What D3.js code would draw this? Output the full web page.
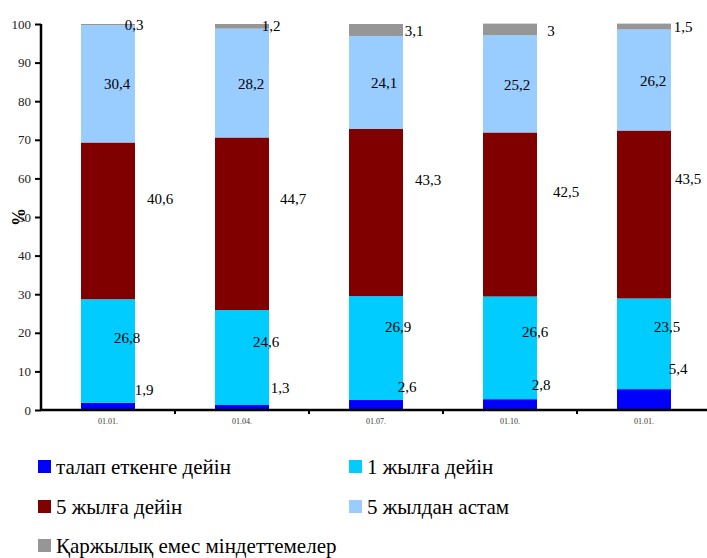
<!DOCTYPE html>
<html><head><meta charset="utf-8">
<script src="https://cdn.jsdelivr.net/npm/d3@7"></script>
<style>body{margin:0;background:#fff}svg{display:block}</style>
</head><body><svg id="c" width="707" height="558"></svg>
<script>
const categories = ["01.01.", "01.04.", "01.07.", "01.10.", "01.01."];
const seriesNames = ["талап еткенге дейін", "1 жылға дейін", "5 жылға дейін", "5 жылдан астам", "Қаржылық емес міндеттемелер"];
const onDemand   = [1.9, 1.3, 2.6, 2.8, 5.4];
const upTo1Year  = [26.8, 24.6, 26.9, 26.6, 23.5];
const upTo5Years = [40.6, 44.7, 43.3, 42.5, 43.5];
const over5Years = [30.4, 28.2, 24.1, 25.2, 26.2];
const nonFinancial = [0.3, 1.2, 3.1, 3, 1.5];
const labelText = [
  ["1,9","1,3","2,6","2,8","5,4"],
  ["26,8","24,6","26,9","26,6","23,5"],
  ["40,6","44,7","43,3","42,5","43,5"],
  ["30,4","28,2","24,1","25,2","26,2"],
  ["0,3","1,2","3,1","3","1,5"]
];
const yTicks = [0,10,20,30,40,50,60,70,80,90,100];

// layout / style
const FONT = '"Liberation Serif", "Times New Roman", Tinos, serif';
const colors = ["#0000FF", "#00CCFF", "#800000", "#99CCFF", "#969696"];
const labelNudge = [
  [[36,-17],[38,-20],[31,-18],[31,-20],[34,-31]],
  [[19,-13],[24,-16],[22,-21],[25,-16],[23,-17]],
  [[52,-22],[51,-25],[52,-33],[56,-23],[44,-36]],
  [[9,0],[9,1],[8,0],[7,1],[9,1]],
  [[26,0],[29,-1],[38,1],[41,1],[39,0]]
];

const seriesVals = [onDemand, upTo1Year, upTo5Years, over5Years, nonFinancial];
const rows = categories.map((c, i) => {
  const o = {i};
  seriesVals.forEach((s, k) => o["s" + k] = s[i]);
  return o;
});
const keys = seriesVals.map((_, k) => "s" + k);
const stacked = d3.stack().keys(keys)(rows);

const svg = d3.select("#c");
const x0 = 41, x1 = 711, yB = 410, yT = 24;
const pIn = 0.597;
const x = d3.scaleBand().domain(d3.range(categories.length)).range([x0, x1]).paddingInner(pIn).paddingOuter(pIn / 2);
const y = d3.scaleLinear().domain([0, 100]).range([yB, yT]);

// bars
stacked.forEach((layer, k) => {
  svg.append("g").selectAll("rect").data(layer).join("rect")
    .attr("x", d => x(d.data.i))
    .attr("width", x.bandwidth())
    .attr("y", d => y(d[1]))
    .attr("height", d => y(d[0]) - y(d[1]))
    .attr("fill", colors[k]);
});

// labels
stacked.forEach((layer, k) => {
  svg.append("g").selectAll("text").data(layer).join("text")
    .attr("x", (d, i) => x(d.data.i) + x.bandwidth() / 2 + labelNudge[k][i][0])
    .attr("y", (d, i) => y((d[0] + d[1]) / 2) + labelNudge[k][i][1])
    .attr("dy", "0.35em")
    .attr("text-anchor", "middle")
    .style("font-family", FONT)
    .style("font-size", "15px")
    .attr("fill", "#000")
    .text((d, i) => labelText[k][i]);
});

// y axis
const yAxis = d3.axisLeft(y).tickValues(yTicks).tickSize(6).tickPadding(4);
const gy = svg.append("g").attr("transform", `translate(${x0},0)`).call(yAxis);
gy.select(".domain").attr("stroke", "#000").attr("stroke-width", 2.5).attr("d", `M0,${yB}V${yT}`);
gy.selectAll(".tick line").attr("stroke", "#000").attr("stroke-width", 2);
gy.selectAll(".tick text").style("font-family", FONT).style("font-size", "13px").attr("fill", "#222");

// x axis
const xAxis = d3.axisBottom(x).tickFormat(i => categories[i]).tickSize(0).tickPadding(8);
const gx = svg.append("g").attr("transform", `translate(0,${yB})`).call(xAxis);
gx.select(".domain").attr("stroke", "#000").attr("stroke-width", 2.5).attr("d", `M${x0},0H${x1}`);
gx.selectAll(".tick text").style("font-family", FONT).style("font-size", "8px").attr("fill", "#333");
gx.selectAll("line.sep").data(d3.range(1, categories.length)).join("line").attr("class", "sep")
  .attr("x1", i => x0 + x.step() * i).attr("x2", i => x0 + x.step() * i)
  .attr("y1", 0).attr("y2", 4).attr("stroke", "#000").attr("stroke-width", 2);

// y title
svg.append("text").attr("transform", "translate(25,217) rotate(-90)")
  .attr("text-anchor", "middle").attr("font-weight", "bold")
  .style("font-family", FONT).style("font-size", "18px").text("%");

// legend
const legPos = [[38, 466], [349, 466], [38, 506], [349, 506], [38, 545]];
const lg = svg.append("g").selectAll("g").data(seriesNames).join("g")
  .attr("transform", (d, i) => `translate(${legPos[i][0]},${legPos[i][1]})`);
lg.append("rect").attr("x", 0).attr("y", -6).attr("width", 13).attr("height", 13).attr("fill", (d, i) => colors[i]);
lg.append("text").attr("x", 18).attr("y", 1).attr("dy", "0.35em")
  .style("font-family", FONT).style("font-size", "21px").attr("fill", "#000").text(d => d);
</script></body></html>
